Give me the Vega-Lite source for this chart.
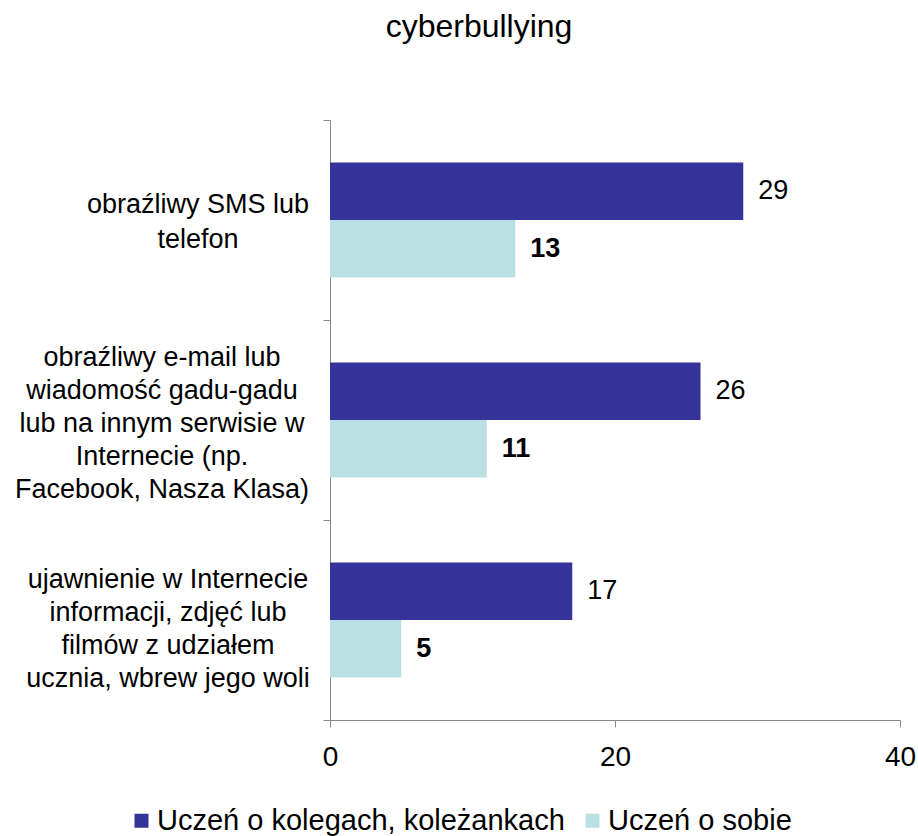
{
  "$schema": "https://vega.github.io/schema/vega-lite/v6.json",
  "width": 570,
  "height": 600,
  "autosize": {"type": "none"},
  "padding": {"left": 330, "top": 120, "right": 18, "bottom": 116},
  "background": "white",
  "config": {
    "font": "Liberation Sans",
    "view": {"stroke": null}
  },
  "title": {
    "text": "cyberbullying",
    "fontSize": 32,
    "fontWeight": "normal",
    "color": "black",
    "font": "Liberation Sans",
    "anchor": "middle",
    "dx": -136,
    "offset": 76
  },
  "data": {
    "values": [
      {"kategoria": "obraźliwy SMS lub|telefon", "seria": "Uczeń o kolegach, koleżankach", "wartosc": 29},
      {"kategoria": "obraźliwy SMS lub|telefon", "seria": "Uczeń o sobie", "wartosc": 13},
      {"kategoria": "obraźliwy e-mail lub|wiadomość gadu-gadu|lub na innym serwisie w|Internecie (np.|Facebook, Nasza Klasa)", "seria": "Uczeń o kolegach, koleżankach", "wartosc": 26},
      {"kategoria": "obraźliwy e-mail lub|wiadomość gadu-gadu|lub na innym serwisie w|Internecie (np.|Facebook, Nasza Klasa)", "seria": "Uczeń o sobie", "wartosc": 11},
      {"kategoria": "ujawnienie w Internecie|informacji, zdjęć lub|filmów z udziałem|ucznia, wbrew jego woli", "seria": "Uczeń o kolegach, koleżankach", "wartosc": 17},
      {"kategoria": "ujawnienie w Internecie|informacji, zdjęć lub|filmów z udziałem|ucznia, wbrew jego woli", "seria": "Uczeń o sobie", "wartosc": 5}
    ]
  },
  "encoding": {
    "y": {
      "field": "kategoria",
      "type": "nominal",
      "sort": null,
      "title": null,
      "scale": {"paddingInner": 0, "paddingOuter": 0},
      "axis": {
        "tickBand": "extent",
        "domainColor": "#898989",
        "tickColor": "#898989",
        "tickSize": 7,
        "labels": false
      }
    },
    "x": {
      "field": "wartosc",
      "type": "quantitative",
      "title": null,
      "scale": {"domain": [0, 40]},
      "axis": {
        "values": [0, 20, 40],
        "grid": false,
        "domainColor": "#898989",
        "tickColor": "#898989",
        "tickSize": 7,
        "labelFontSize": 28,
        "labelColor": "black",
        "labelPadding": 16,
        "labelFlush": false
      }
    }
  },
  "layer": [
    {
      "mark": {"type": "bar"},
      "encoding": {
        "yOffset": {
          "field": "seria",
          "type": "nominal",
          "sort": ["Uczeń o kolegach, koleżankach", "Uczeń o sobie"],
          "scale": {"paddingInner": 0, "paddingOuter": 0.739}
        },
        "color": {
          "field": "seria",
          "type": "nominal",
          "sort": ["Uczeń o kolegach, koleżankach", "Uczeń o sobie"],
          "scale": {"range": ["#333399", "#BBE0E3"]},
          "legend": {
            "title": null,
            "orient": "none",
            "direction": "horizontal",
            "legendX": -203,
            "legendY": 686,
            "symbolType": "square",
            "symbolSize": 196,
            "symbolStrokeWidth": 0,
            "labelFontSize": 29,
            "labelColor": "black",
            "labelOffset": 1,
            "columnPadding": 13,
            "labelLimit": 0
          }
        }
      }
    },
    {
      "transform": [{"filter": "datum.seria == 'Uczeń o kolegach, koleżankach'"}],
      "mark": {"type": "text", "align": "left", "baseline": "middle", "dx": 15, "fontSize": 27, "color": "black", "fontWeight": "normal"},
      "encoding": {
        "yOffset": {
          "field": "seria",
          "type": "nominal",
          "sort": ["Uczeń o kolegach, koleżankach", "Uczeń o sobie"]
        },
        "text": {"field": "wartosc", "type": "quantitative"}
      }
    },
    {
      "transform": [{"filter": "datum.seria == 'Uczeń o sobie'"}],
      "mark": {"type": "text", "align": "left", "baseline": "middle", "dx": 15, "fontSize": 27, "color": "black", "fontWeight": "bold"},
      "encoding": {
        "yOffset": {
          "field": "seria",
          "type": "nominal",
          "sort": ["Uczeń o kolegach, koleżankach", "Uczeń o sobie"]
        },
        "text": {"field": "wartosc", "type": "quantitative"}
      }
    },
    {
      "transform": [{"filter": "datum.seria == 'Uczeń o sobie' && indexof(datum.kategoria, 'SMS') >= 0"}],
      "mark": {"type": "text", "align": "center", "baseline": "middle", "lineBreak": "|", "lineHeight": 35, "fontSize": 27, "color": "black", "dx": -132, "dy": -15},
      "encoding": {
        "x": {"datum": 0},
        "text": {"field": "kategoria", "type": "nominal"}
      }
    },
    {
      "transform": [{"filter": "datum.seria == 'Uczeń o sobie' && indexof(datum.kategoria, 'e-mail') >= 0"}],
      "mark": {"type": "text", "align": "center", "baseline": "middle", "lineBreak": "|", "lineHeight": 33, "fontSize": 27, "color": "black", "dx": -168, "dy": -62},
      "encoding": {
        "x": {"datum": 0},
        "text": {"field": "kategoria", "type": "nominal"}
      }
    },
    {
      "transform": [{"filter": "datum.seria == 'Uczeń o sobie' && indexof(datum.kategoria, 'ujawnienie') >= 0"}],
      "mark": {"type": "text", "align": "center", "baseline": "middle", "lineBreak": "|", "lineHeight": 33, "fontSize": 27, "color": "black", "dx": -162, "dy": -40},
      "encoding": {
        "x": {"datum": 0},
        "text": {"field": "kategoria", "type": "nominal"}
      }
    }
  ]
}
